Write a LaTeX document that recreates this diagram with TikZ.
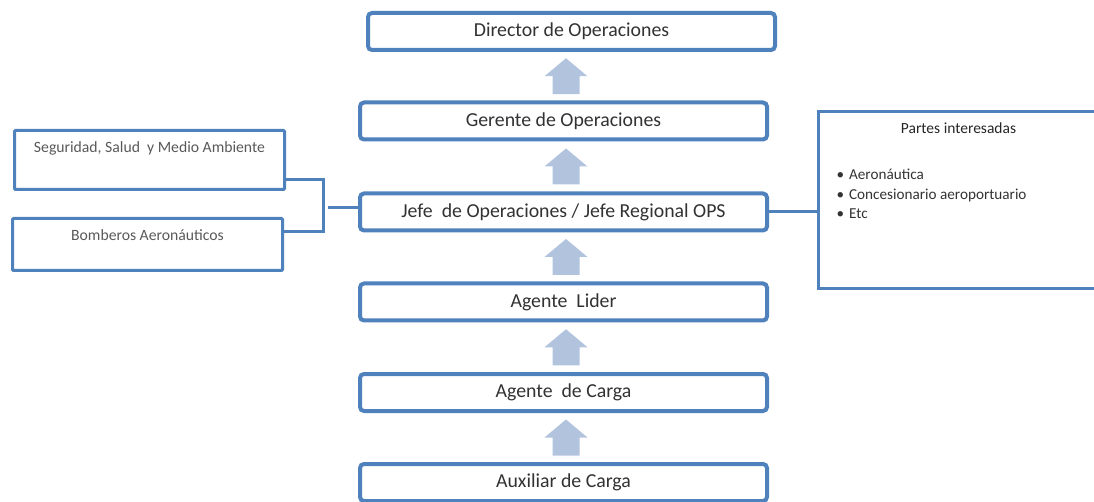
\documentclass[tikz,border=0pt]{standalone}
\usepackage{fontspec}
\setmainfont{Carlito}
\usetikzlibrary{positioning,calc}
\definecolor{boxblue}{RGB}{79,129,189}
\definecolor{arrowblue}{RGB}{178,195,222}
\definecolor{txtgray}{RGB}{50,50,50}

\begin{document}
\begin{tikzpicture}[x=1pt, y=-1pt, rank/.style={draw=boxblue, line width=4pt, rounded corners=4pt, fill=white, minimum width=407pt, minimum height=37pt, inner sep=0pt, text=txtgray, font=\fontsize{19.8}{23}\selectfont}, side/.style={draw=boxblue, line width=3pt, rounded corners=1pt, minimum width=270pt, inner sep=0pt}, sidetext/.style={text=black!65, font=\fontsize{15.7}{18}\selectfont}, link/.style={draw=boxblue, line width=3pt}, uparrow/.pic={\fill[arrowblue] (-13.5,18) -- (-13.5,0) -- (-21.5,0) -- (0,-18) -- (21.5,0) -- (13.5,0) -- (13.5,18) -- cycle;}]
\useasboundingbox (0,0) rectangle (1094,502);
% cadena de mando
\node[rank] (dir) at (571.5,31.5) {Director de Operaciones};
\node[rank] (ger) at (563.5,121) {Gerente de Operaciones};
\node[rank] (jefe) at (563.5,212) {Jefe~ de Operaciones / Jefe Regional OPS};
\node[rank] (lider) at (563.5,302) {Agente~ Lider};
\node[rank] (carga) at (563.5,392.5) {Agente~ de Carga};
\node[rank] (aux) at (563.5,482.5) {Auxiliar de Carga};
\foreach \lo/\hi in {ger/dir, jefe/ger, lider/jefe, carga/lider, aux/carga}
  \pic at ($(\lo.north |- \hi.south)!0.5!(\lo.north)+(2.5,0)$) {uparrow};
% areas de apoyo
\node[side, minimum height=59pt] (ssma) at (149.5,160) {};
\node[sidetext] at ([yshift=-19pt]ssma.north) {Seguridad, Salud~ y Medio Ambiente};
\node[side, minimum height=52pt] (bomb) at (147.5,244.5) {};
\node[sidetext] at ([yshift=-18pt]bomb.north) {Bomberos Aeronáuticos};
\coordinate (jn) at (323,208);
\draw[link] ([yshift=-20pt]ssma.east) -| (jn) |- ([yshift=12.5pt]bomb.east);
\draw[link] ([xshift=5pt]jn) -- (jn -| jefe.west);
% partes interesadas
\node[side, rounded corners=0pt, minimum width=280pt, minimum height=177pt] (partes) at (958.5,200) {};
\node[text=black!85, font=\fontsize{15.5}{18}\selectfont] at ([yshift=-18pt]partes.north) {Partes interesadas};
\node[align=left, anchor=west, text=black!80, font=\fontsize{15.2}{19.5}\selectfont] (lista) at (833,194) {\textbullet\hspace{5pt}Aeronáutica\\ \textbullet\hspace{5pt}Concesionario aeroportuario\\ \textbullet\hspace{5pt}Etc};
\draw[link] (jefe.east) -- (jefe.east -| partes.west);
\end{tikzpicture}
\end{document}
